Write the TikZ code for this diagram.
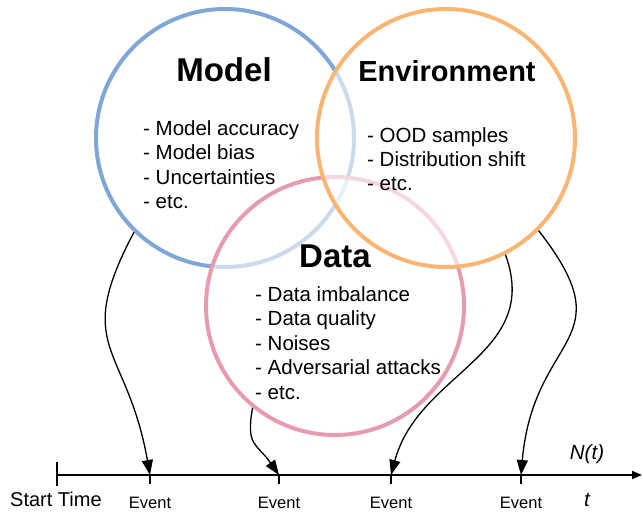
\documentclass[tikz,border=0pt]{standalone}
\usepackage{fontspec}
\setmainfont{Liberation Sans}
\usetikzlibrary{arrows.meta}
\definecolor{modelblue}{RGB}{126,166,214}
\definecolor{envorange}{RGB}{250,181,115}
\definecolor{datapink}{RGB}{230,155,175}
\tikzset{ring/.style={circle, line width=4pt, minimum size=258pt, inner sep=0pt},
  ringtitle/.style={anchor=base, inner sep=0pt, font=\fontsize{33}{38}\selectfont\bfseries},
  item/.style={anchor=base west, inner sep=0pt, font=\fontsize{20.5}{24.6}\selectfont},
  eventlabel/.style={anchor=base, inner sep=0pt, font=\fontsize{16.5}{19}\selectfont},
  flow/.style={->, line width=1.3pt}}

\begin{document}
\begin{tikzpicture}[x=1pt, y=1pt, >={Triangle[length=15pt,width=11pt]}]
		\useasboundingbox (0,0) rectangle (642,-512);
		% the three circles
		\node[ring, draw=modelblue](M) at (225,-138){};
		\node[ring, draw=datapink, fill=white, fill opacity=0.6](D) at (335,-306){};
		\node[ring, draw=envorange, fill=white, fill opacity=0.6](E) at (446,-138){};
		\node[ringtitle](Mt) at (224,-81){Model};
		\node[ringtitle, font=\fontsize{29}{34}\selectfont\bfseries](Et) at (447,-81){Environment};
		\node[ringtitle](Dt) at (335,-267){Data};
		\foreach \t [count=\i] in {Model accuracy, Model bias, Uncertainties, etc.}
			\node[item](Mi\i) at (143,{-135-24.6*(\i-1)}){- \t};
		\foreach \t [count=\i] in {OOD samples, Distribution shift, etc.}
			\node[item](Ei\i) at (367,{-142-24.3*(\i-1)}){- \t};
		\foreach \t [count=\i] in {Data imbalance, Data quality, Noises, Adversarial attacks, etc.}
			\node[item](Di\i) at (255,{-301-24.6*(\i-1)}){- \t};
		% time axis
		\coordinate(S) at (57,-475);
		\coordinate(Tend) at (642,-475);
		\draw[line width=1.8pt, -{Triangle[length=10pt,width=8pt]}](S) -- (Tend);
		\draw[line width=1.5pt]([yshift=13pt]S) -- ([yshift=-11pt]S);
		\foreach \x [count=\i] in {150,279,391,521}{
			\coordinate(T\i) at (\x,-475);
			\draw[line width=1.5pt](T\i) -- ++(0,-9);
			\node[eventlabel](L\i) at (\x,-508.5){Event};
		}
		\node[anchor=base west, inner sep=0pt, font=\fontsize{20}{24}\selectfont](St) at (10,-506){Start Time};
		\node[anchor=base, inner sep=0pt, font=\fontsize{20.5}{24}\selectfont\itshape](t) at (587,-506){t};
		\node[anchor=base, inner sep=0pt, font=\fontsize{20.5}{24}\selectfont\itshape](N) at (587,-459){N(t)};
		% events caused by each part
		\draw[flow](M.226) to[out=242, in=100, looseness=1.4] (T1);
		\draw[flow](D.231) to[out=260, in=125, looseness=1.4] (T2);
		\draw[flow](E.297) to[out=290, in=75, looseness=1.1] (T3);
		\draw[flow](E.315) to[out=308, in=85, looseness=1.5] (T4);
	\end{tikzpicture}
\end{document}
